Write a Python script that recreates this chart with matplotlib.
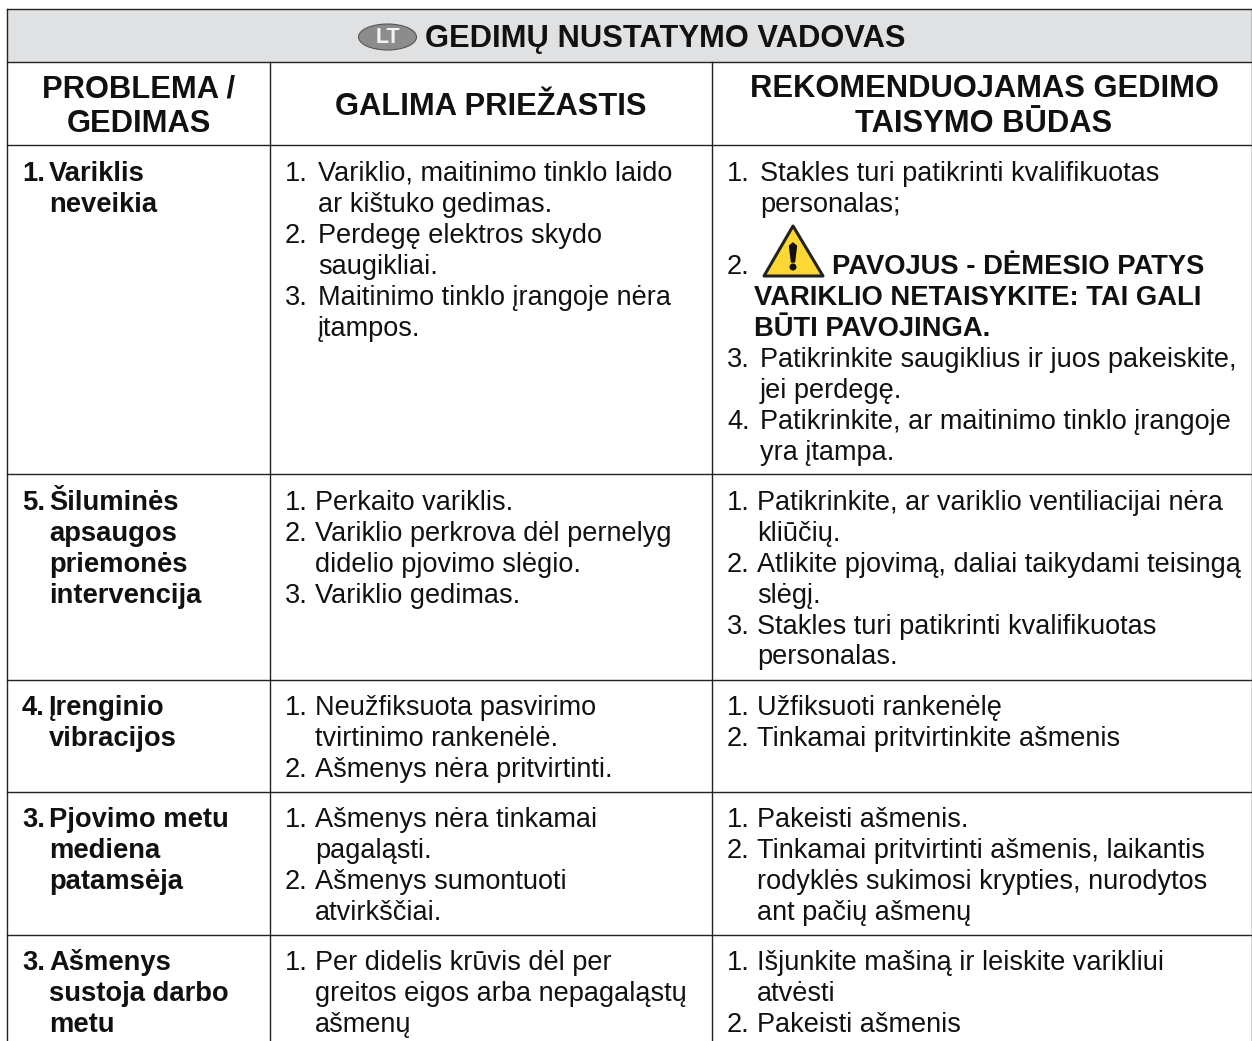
###PURPOSE: lithuanian troubleshooting table from a machine manual
import matplotlib
matplotlib.use("Agg")
import matplotlib.pyplot as plt
from matplotlib.patches import Ellipse, Polygon, Rectangle

title = "GEDIMŲ NUSTATYMO VADOVAS"
badge = "LT"
headers = [["PROBLEMA /", "GEDIMAS"],
           ["GALIMA PRIEŽASTIS"],
           ["REKOMENDUOJAMAS GEDIMO", "TAISYMO BŪDAS"]]

problems = [
    [("1.", "Variklis"), ("", "neveikia")],
    [("5.", "Šiluminės"), ("", "apsaugos"), ("", "priemonės"), ("", "intervencija")],
    [("4.", "Įrenginio"), ("", "vibracijos")],
    [("3.", "Pjovimo metu"), ("", "mediena"), ("", "patamsėja")],
    [("3.", "Ašmenys"), ("", "sustoja darbo"), ("", "metu")],
]
causes = [
    [("1.", "Variklio, maitinimo tinklo laido"), ("", "ar kištuko gedimas."),
     ("2.", "Perdegę elektros skydo"), ("", "saugikliai."),
     ("3.", "Maitinimo tinklo įrangoje nėra"), ("", "įtampos.")],
    [("1.", "Perkaito variklis."), ("2.", "Variklio perkrova dėl pernelyg"),
     ("", "didelio pjovimo slėgio."), ("3.", "Variklio gedimas.")],
    [("1.", "Neužfiksuota pasvirimo"), ("", "tvirtinimo rankenėlė."),
     ("2.", "Ašmenys nėra pritvirtinti.")],
    [("1.", "Ašmenys nėra tinkamai"), ("", "pagaląsti."),
     ("2.", "Ašmenys sumontuoti"), ("", "atvirkščiai.")],
    [("1.", "Per didelis krūvis dėl per"), ("", "greitos eigos arba nepagaląstų"),
     ("", "ašmenų")],
]
fixes = [
    [("1.", "Stakles turi patikrinti kvalifikuotas"), ("", "personalas;")],
    [("1.", "Patikrinkite, ar variklio ventiliacijai nėra"), ("", "kliūčių."),
     ("2.", "Atlikite pjovimą, daliai taikydami teisingą"), ("", "slėgį."),
     ("3.", "Stakles turi patikrinti kvalifikuotas"), ("", "personalas.")],
    [("1.", "Užfiksuoti rankenėlę"), ("2.", "Tinkamai pritvirtinkite ašmenis")],
    [("1.", "Pakeisti ašmenis."), ("2.", "Tinkamai pritvirtinti ašmenis, laikantis"),
     ("", "rodyklės sukimosi krypties, nurodytos"), ("", "ant pačių ašmenų")],
    [("1.", "Išjunkite mašiną ir leiskite varikliui"), ("", "atvėsti"),
     ("2.", "Pakeisti ašmenis")],
]
warning_num = "2."
warning_lines = ["PAVOJUS - DĖMESIO PATYS", "VARIKLIO NETAISYKITE: TAI GALI", "BŪTI PAVOJINGA."]
fixes_row1_rest = [("3.", "Patikrinkite saugiklius ir juos pakeiskite,"), ("", "jei perdegę."),
                   ("4.", "Patikrinkite, ar maitinimo tinklo įrangoje"), ("", "yra įtampa.")]

row_first_y = [181, 510, 715, 827, 970]
row_lines = [145, 474, 680, 792, 935]

W, H = 1252, 1041
BODY = 19.55
BOLD = 19.7
HEAD = 22.25
STEP = 30.9
INK = '#111111'

plt.rcParams['font.family'] = ['Liberation Sans', 'DejaVu Sans']
fig = plt.figure(figsize=(W / 100, H / 100), dpi=100)
ax = fig.add_axes([0, 0, 1, 1])
ax.set_xlim(0, W)
ax.set_ylim(H, 0)
ax.axis('off')


def draw_cell(lines, y, xnum, xtext, weight='normal', size=BODY):
    for i, (num, txt) in enumerate(lines):
        yy = y + i * STEP
        if num:
            ax.text(xnum, yy, num, fontsize=size, fontweight=weight, color=INK, va='baseline')
        ax.text(xtext, yy, txt, fontsize=size, fontweight=weight, color=INK, va='baseline')


##title band and grid
ax.add_patch(Rectangle((7, 9), W - 7, 53, fc='#dfe1e3', ec='none', zorder=0))
ax.plot([7, W], [9, 9], color='#222222', lw=1.0)
ax.plot([7, W], [62, 62], color='#222222', lw=1.0)
for y in row_lines:
    ax.plot([7, W], [y, y], color='#222222', lw=1.0)
ax.plot([7, 7], [9, H], color='#222222', lw=1.0)
ax.plot([W - 0.5, W - 0.5], [9, H], color='#222222', lw=1.0)
for x in [270, 712]:
    ax.plot([x, x], [62, H], color='#222222', lw=1.0)

ax.add_patch(Ellipse((387.5, 37), 58, 26, fc='#8a8c8e', ec='#555555', lw=0.8))
ax.text(388, 37.5, badge, fontsize=15.5, fontweight='bold', color='#f4f4f4', ha='center', va='center')
ax.text(425, 47.5, title, fontsize=HEAD, fontweight='bold', color=INK, va='baseline')

##column headers
centers = [139, 491, 984]
for cx, hdr in zip(centers, headers):
    ys = [97, 132] if len(hdr) == 2 else [115]
    for y, line in zip(ys, hdr):
        ax.text(cx, y, line, fontsize=HEAD, fontweight='bold', color=INK, ha='center', va='baseline')

##rows
cause_x = [318, 315, 315, 315, 315]
for i in range(len(problems)):
    draw_cell(problems[i], row_first_y[i], 22, 49, weight='bold', size=BOLD)
    draw_cell(causes[i], row_first_y[i], 285, cause_x[i])
    draw_cell(fixes[i], row_first_y[i], 727, 760 if i == 0 else 757)

##warning block in first row
ax.text(727, 274, warning_num, fontsize=BODY, color=INK, va='baseline')
ax.add_patch(Polygon([(793, 226), (764, 276), (823, 276)], closed=True, fc='#fdd835', ec='#222222', lw=2.2, joinstyle='round'))
ax.add_patch(Polygon([(789.5, 246), (793, 243), (796.5, 246), (794.5, 262), (791.5, 262)], closed=True,
                     fc='#111111', ec='#111111', lw=1.0, joinstyle='round'))
ax.add_patch(Ellipse((793, 267), 7, 7, fc='#111111', ec='none'))
ax.text(832, 274, warning_lines[0], fontsize=BOLD, fontweight='bold', color=INK, va='baseline')
ax.text(754, 305, warning_lines[1], fontsize=BOLD, fontweight='bold', color=INK, va='baseline')
ax.text(754, 336, warning_lines[2], fontsize=BOLD, fontweight='bold', color=INK, va='baseline')
draw_cell(fixes_row1_rest, 367, 727, 760)

plt.savefig("out.png", dpi=100)
